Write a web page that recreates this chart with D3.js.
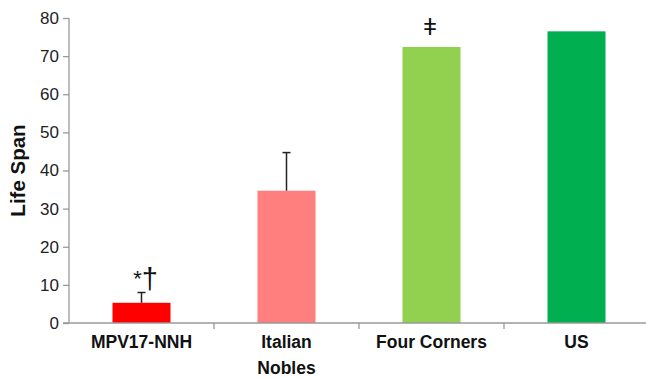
<!DOCTYPE html>
<html>
<head>
<meta charset="utf-8">
<script src="https://cdn.jsdelivr.net/npm/d3@7"></script>
<style>
  body { margin: 0; background: #fff; }
  text { font-family: "Liberation Sans", Arial, sans-serif; }
</style>
</head>
<body>
<script>
// chart size
const w = 646;
const h = 378;

// data
const categories = ["MPV17-NNH", "Italian Nobles", "Four Corners", "US"];
const lifeSpan = [5.3, 34.7, 72.4, 76.5];
const errorUp = [2.7, 10.0, 0, 0];
const barColors = ["#ff0000", "#ff7f7f", "#92d050", "#00b050"];
const yTicks = [0, 10, 20, 30, 40, 50, 60, 70, 80];

const margin = { top: 18, right: -3, bottom: 55, left: 69 };

const svg = d3.select("body").append("svg").attr("width", w).attr("height", h);

const x = d3.scaleBand()
  .domain(categories)
  .range([margin.left, w - margin.right])
  .paddingInner(0.6)
  .paddingOuter(0.3);

const y = d3.scaleLinear()
  .domain([0, 80])
  .range([h - margin.bottom, margin.top]);

const cx = (c) => x(c) + x.bandwidth() / 2;

// bars
svg.selectAll("rect.bar")
  .data(lifeSpan)
  .enter()
  .append("rect")
  .attr("class", "bar")
  .attr("x", (d, i) => x(categories[i]))
  .attr("y", (d) => y(d))
  .attr("width", x.bandwidth())
  .attr("height", (d) => y(0) - y(d))
  .attr("fill", (d, i) => barColors[i]);

// error bars (upper only)
const err = svg.selectAll("g.err")
  .data(lifeSpan.map((d, i) => ({ v: d, e: errorUp[i], c: categories[i] })).filter((d) => d.e > 0))
  .enter()
  .append("g")
  .attr("class", "err")
  .attr("stroke", "#222")
  .attr("stroke-width", 1.5);
err.append("line")
  .attr("x1", (d) => cx(d.c))
  .attr("x2", (d) => cx(d.c))
  .attr("y1", (d) => y(d.v))
  .attr("y2", (d) => y(d.v + d.e));
err.append("line")
  .attr("x1", (d) => cx(d.c) - 4)
  .attr("x2", (d) => cx(d.c) + 4)
  .attr("y1", (d) => y(d.v + d.e))
  .attr("y2", (d) => y(d.v + d.e));

// significance marks
const m1 = svg.append("text")
  .attr("x", cx(categories[0]) + 4)
  .attr("y", y(lifeSpan[0] + errorUp[0]) - 4)
  .attr("text-anchor", "middle")
  .attr("fill", "#111");
m1.append("tspan").attr("font-size", "22px").attr("dy", -3).text("*");
m1.append("tspan").attr("font-size", "29px").attr("dy", 3).text("\u2020");

svg.append("text")
  .text("\u01C2")
  .attr("x", cx(categories[2]) - 1.5)
  .attr("y", y(lifeSpan[2]) - 12)
  .attr("text-anchor", "middle")
  .attr("font-size", "24px")
  .attr("fill", "#111");

// y axis
const yAxis = svg.append("g")
  .attr("transform", `translate(${margin.left},0)`)
  .call(d3.axisLeft(y).tickValues(yTicks).tickSize(6).tickPadding(4));
yAxis.selectAll("path, line").attr("stroke", "#999").attr("stroke-width", 1.3);
yAxis.select(".domain").attr("d", `M0,${y(80)}V${y(0)}`);
yAxis.selectAll("text").attr("font-size", "17px").attr("fill", "#222")
  .attr("font-family", "'Liberation Sans', Arial, sans-serif");

// x axis: ticks between categories
const xAxis = svg.append("g").attr("transform", `translate(0,${y(0)})`);
xAxis.append("line")
  .attr("x1", margin.left - 6)
  .attr("x2", w)
  .attr("stroke", "#999")
  .attr("stroke-width", 1.3);
xAxis.selectAll("line.sep")
  .data(categories.slice(1))
  .enter()
  .append("line")
  .attr("class", "sep")
  .attr("x1", (d) => x(d) - x.step() * x.paddingInner() / 2)
  .attr("x2", (d) => x(d) - x.step() * x.paddingInner() / 2)
  .attr("y1", 0)
  .attr("y2", 6)
  .attr("stroke", "#999")
  .attr("stroke-width", 1.3);

// category labels (Italian Nobles wraps onto two lines)
const labels = xAxis.selectAll("text.cat")
  .data(categories)
  .enter()
  .append("text")
  .attr("class", "cat")
  .attr("text-anchor", "middle")
  .attr("font-size", "17.5px")
  .attr("font-weight", "bold")
  .attr("fill", "#111")
  .attr("y", 25);
labels.each(function (d) {
  const words = d === "Italian Nobles" ? d.split(" ") : [d];
  d3.select(this).selectAll("tspan")
    .data(words)
    .enter()
    .append("tspan")
    .attr("x", cx(d))
    .attr("dy", (t, j) => (j === 0 ? 0 : 26))
    .text((t) => t);
});

// y axis title
svg.append("text")
  .text("Life Span")
  .attr("transform", `translate(25,${(y(0) + y(80)) / 2}) rotate(-90)`)
  .attr("text-anchor", "middle")
  .attr("font-size", "20.5px")
  .attr("font-weight", "bold")
  .attr("fill", "#111");
</script>
</body>
</html>
